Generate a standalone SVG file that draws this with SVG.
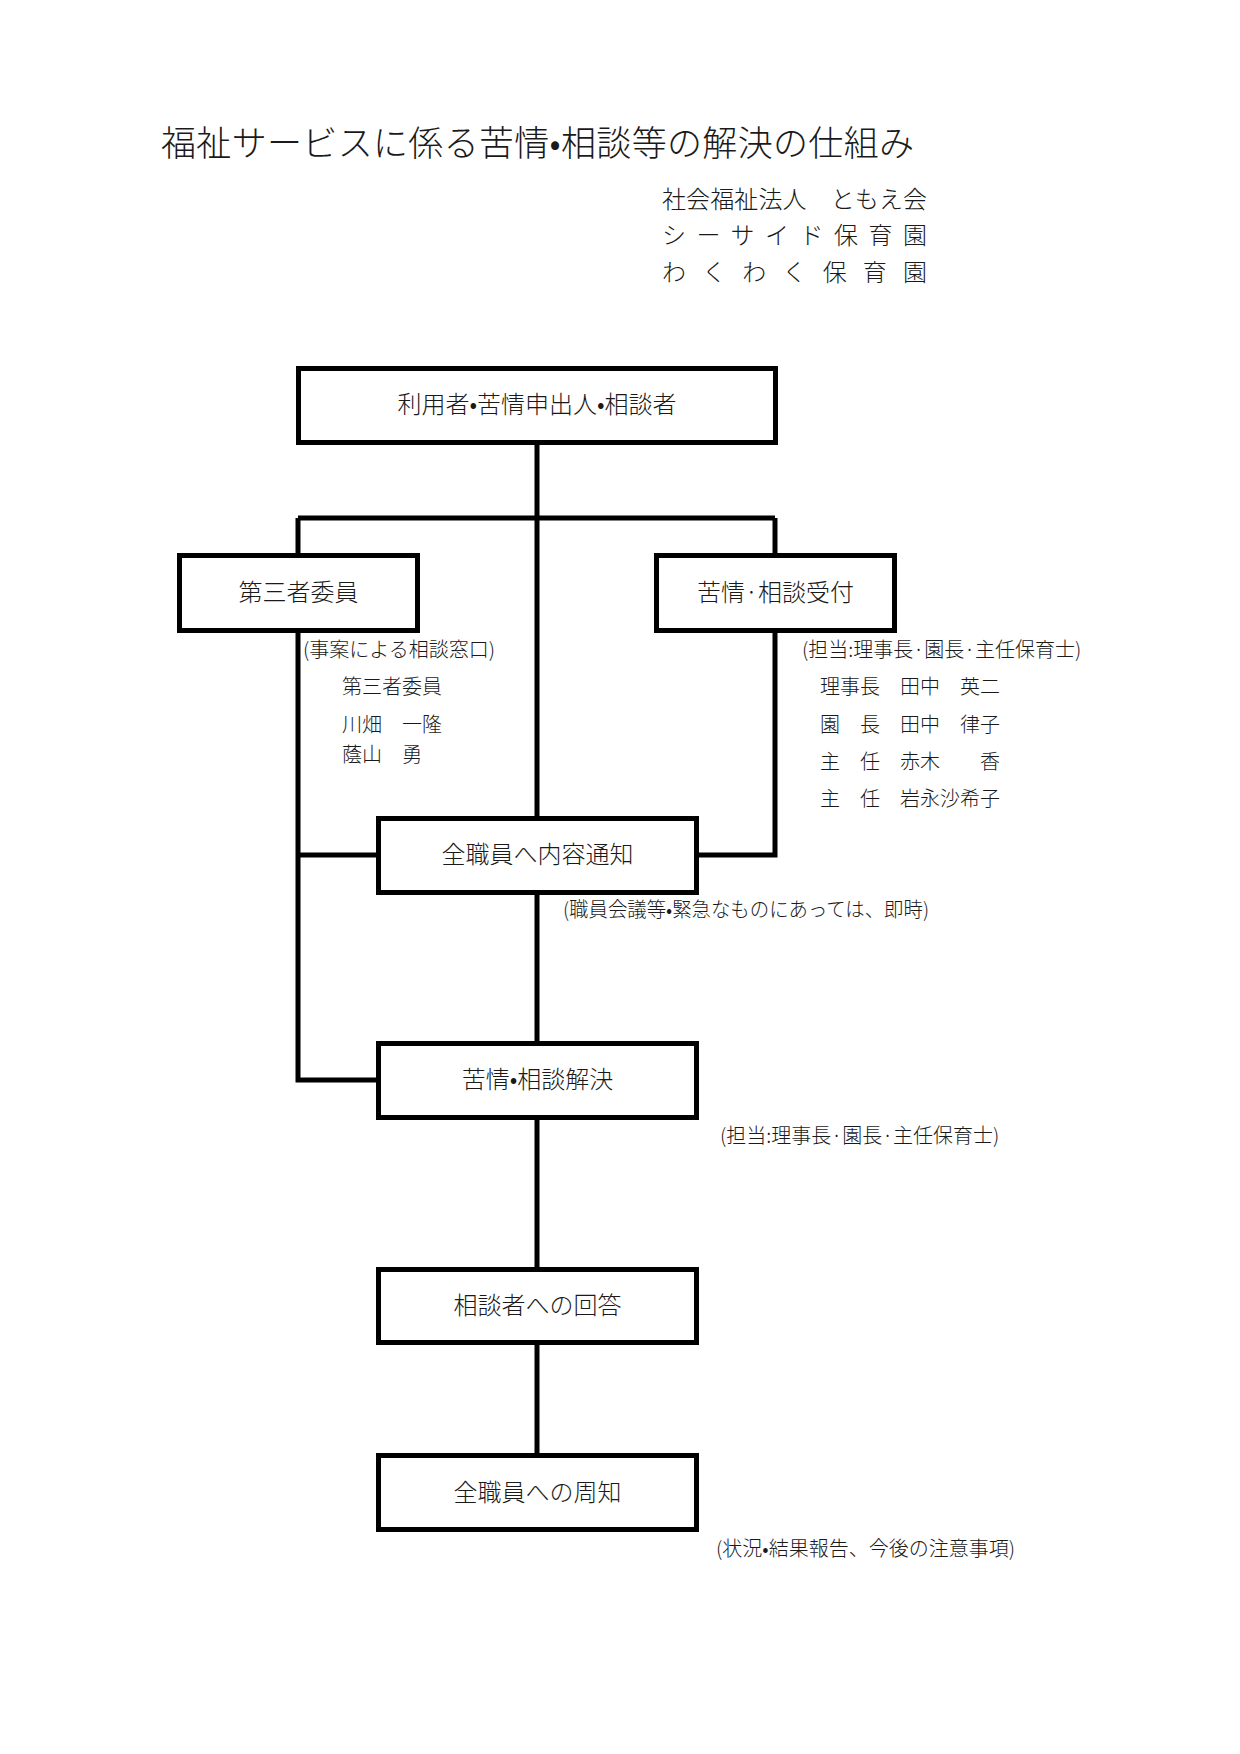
<svg xmlns="http://www.w3.org/2000/svg" width="1240" height="1754" viewBox="0 0 1240 1754">
<style>
text{font-family:'Noto Sans CJK JP','Noto Sans CJK SC',sans-serif;font-weight:300;fill:#1a1a1a;dominant-baseline:central}
.box{fill:#fff;stroke:#000;stroke-width:5}
.lbl{font-size:24px;text-anchor:middle}
.note{font-size:20px}
.org{font-size:24px}
.conn{fill:none;stroke:#000;stroke-width:5;stroke-linejoin:miter}
</style>
<rect width="1240" height="1754" fill="#fff"/>
<text x="161" y="140" style="font-size:35px" textLength="753" lengthAdjust="spacing">福祉サービスに係る苦情•相談等の解決の仕組み</text>
<text class="org" x="662" y="197" textLength="265" lengthAdjust="spacing">社会福祉法人　ともえ会</text>
<text class="org" x="662" y="233" textLength="265" lengthAdjust="spacing">シーサイド保育園</text>
<text class="org" x="662" y="270" textLength="265" lengthAdjust="spacing">わくわく保育園</text>
<g id="connectors">
<path class="conn" d="M537 445V816"/>
<path class="conn" d="M298 518H775"/>
<path class="conn" d="M298 518V553"/>
<path class="conn" d="M775 518V553"/>
<path class="conn" d="M298 633V1080H376"/>
<path class="conn" d="M298 855H376"/>
<path class="conn" d="M775 633V855H699"/>
<path class="conn" d="M537 895V1041"/>
<path class="conn" d="M537 1120V1267"/>
<path class="conn" d="M537 1345V1453"/>
</g>
<g id="node-user">
<rect class="box" x="298.5" y="368.5" width="477" height="74"/>
<text class="lbl" x="537" y="402">利用者•苦情申出人•相談者</text>
</g>
<g id="node-third">
<rect class="box" x="179.5" y="555.5" width="238" height="75"/>
<text class="lbl" x="298.5" y="590">第三者委員</text>
</g>
<g id="node-reception">
<rect class="box" x="656.5" y="555.5" width="238" height="75"/>
<text class="lbl" x="775.5" y="590">苦情·相談受付</text>
</g>
<g id="node-notify">
<rect class="box" x="378.5" y="818.5" width="318" height="74"/>
<text class="lbl" x="537.5" y="852">全職員へ内容通知</text>
</g>
<g id="node-resolve">
<rect class="box" x="378.5" y="1043.5" width="318" height="74"/>
<text class="lbl" x="537.5" y="1077">苦情•相談解決</text>
</g>
<g id="node-answer">
<rect class="box" x="378.5" y="1269.5" width="318" height="73"/>
<text class="lbl" x="537.5" y="1303">相談者への回答</text>
</g>
<g id="node-inform">
<rect class="box" x="378.5" y="1455.5" width="318" height="74"/>
<text class="lbl" x="537.5" y="1490">全職員への周知</text>
</g>
<g id="notes">
<text class="note" x="303" y="648">(事案による相談窓口)</text>
<text class="note" x="342" y="685">第三者委員</text>
<text class="note" x="342" y="723">川畑　一隆</text>
<text class="note" x="342" y="753">蔭山　勇</text>
<text class="note" x="802" y="648">(担当:理事長·園長·主任保育士)</text>
<text class="note" x="820" y="685">理事長　田中　英二</text>
<text class="note" x="820" y="723">園　長　田中　律子</text>
<text class="note" x="820" y="760">主　任　赤木　　香</text>
<text class="note" x="820" y="797">主　任　岩永沙希子</text>
<text class="note" x="563" y="908" textLength="366" lengthAdjust="spacingAndGlyphs">(職員会議等•緊急なものにあっては、即時)</text>
<text class="note" x="720" y="1134">(担当:理事長·園長·主任保育士)</text>
<text class="note" x="716" y="1547">(状況•結果報告、今後の注意事項)</text>
</g>
</svg>
